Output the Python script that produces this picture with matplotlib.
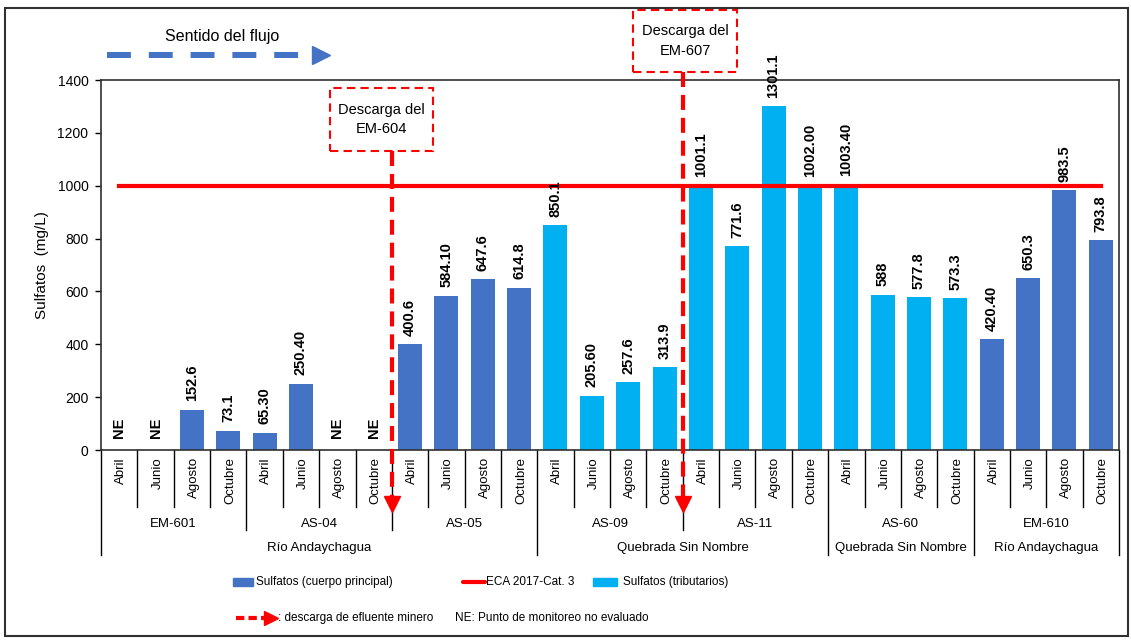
import numpy as np
import matplotlib.pyplot as plt
import matplotlib.transforms as mtransforms
from matplotlib.patches import Rectangle
from matplotlib.lines import Line2D

plt.rcParams['font.family'] = ['Liberation Sans', 'DejaVu Sans']

# Data
months = ['Abril', 'Junio', 'Agosto', 'Octubre']
stations = ['EM-601', 'AS-04', 'AS-05', 'AS-09', 'AS-11', 'AS-60', 'EM-610']
station_tipo = ['principal', 'principal', 'principal', 'tributario',
                'tributario', 'tributario', 'principal']
regions = ['Río Andaychagua', 'Quebrada Sin Nombre', 'Quebrada Sin Nombre', 'Río Andaychagua']
region_n_stations = [3, 2, 1, 1]

sulfatos = [np.nan, np.nan, 152.6, 73.1,
            65.30, 250.40, np.nan, np.nan,
            400.6, 584.10, 647.6, 614.8,
            850.1, 205.60, 257.6, 313.9,
            1001.1, 771.6, 1301.1, 1002.00,
            1003.40, 588, 577.8, 573.3,
            420.40, 650.3, 983.5, 793.8]
sulfatos_txt = ['NE', 'NE', '152.6', '73.1',
                '65.30', '250.40', 'NE', 'NE',
                '400.6', '584.10', '647.6', '614.8',
                '850.1', '205.60', '257.6', '313.9',
                '1001.1', '771.6', '1301.1', '1002.00',
                '1003.40', '588', '577.8', '573.3',
                '420.40', '650.3', '983.5', '793.8']
eca = 1000
# discharge enters after these stations
descargas = {'EM-604': 'AS-04', 'EM-607': 'AS-09'}

BLUE = '#4472C4'
CYAN = '#00B0F0'
RED = '#FF0000'

W, H = 1131, 644
def fx(px):
    return px / W
def fy(py):
    return 1 - py / H

fig = plt.figure(figsize=(W / 100, H / 100), dpi=100)
ax = fig.add_axes([fx(101), fy(450), fx(1119) - fx(101), fy(80) - fy(450)])

n_m = len(months)
x = np.arange(len(stations) * n_m)
vals = np.array(sulfatos, dtype=float)
tipo = np.repeat(station_tipo, n_m)
main = np.where(tipo == 'principal', vals, np.nan)
trib = np.where(tipo == 'tributario', vals, np.nan)

ax.bar(x, np.nan_to_num(main), width=0.66, color=BLUE, label='Sulfatos (cuerpo principal)')
ax.bar(x, np.nan_to_num(trib), width=0.66, color=CYAN, label='Sulfatos (tributarios)')
ax.plot([x[0], x[-1]], [eca, eca], color=RED, lw=3, label='ECA 2017-Cat. 3', zorder=3)

for xi, v, t in zip(x, vals, sulfatos_txt):
    y0 = 0 if np.isnan(v) else v
    off = 9 if np.isnan(v) else 6
    ax.annotate(t, (xi, y0), xytext=(0, off), textcoords='offset points',
                rotation=90, ha='center', va='bottom', fontsize=10.5, fontweight='bold')

ax.set_xlim(-0.5, len(x) - 0.5)
ax.set_ylim(0, 1400)
ax.set_yticks(np.arange(0, 1401, 200))
ax.set_xticks([])
ax.tick_params(axis='y', length=4, width=1, labelsize=10, pad=5)
for s in ax.spines.values():
    s.set_color('#303030')
    s.set_linewidth(1.2)
ax.set_ylabel('Sulfatos  (mg/L)', fontsize=11, labelpad=6)

# category table below the axis
tr = mtransforms.blended_transform_factory(ax.transData, ax.transAxes)
def ay(py):
    return (450 - py) / 370

station_edges = set(range(0, len(x) + 1, n_m))
region_edges = set(np.cumsum([0] + region_n_stations) * n_m)
for b in range(len(x) + 1):
    if b in region_edges:
        y_end = ay(555)
    elif b in station_edges:
        y_end = ay(530)
    else:
        y_end = ay(507)
    ax.plot([b - 0.5, b - 0.5], [0, y_end], transform=tr, color='black', lw=1, clip_on=False)

for xi in x:
    ax.text(xi + 0.05, ay(457), months[xi % n_m], transform=tr, rotation=90,
            ha='center', va='top', fontsize=9.5)
for i, st in enumerate(stations):
    ax.text(i * n_m + (n_m - 1) / 2, ay(524), st, transform=tr,
            ha='center', va='center', fontsize=9.5)
start = 0
for reg, n in zip(regions, region_n_stations):
    ax.text(start * n_m + (n * n_m - 1) / 2, ay(548), reg, transform=tr,
            ha='center', va='center', fontsize=9.5)
    start += n

# discharge arrows and boxes
trf = mtransforms.blended_transform_factory(ax.transData, fig.transFigure)
box_px = {'EM-604': (330, 88, 433, 151), 'EM-607': (633, 10, 737, 72)}
for em, after in descargas.items():
    xb = (stations.index(after) + 1) * n_m - 0.5
    x0, y0, x1, y1 = box_px[em]
    fig.patches.append(Rectangle((fx(x0), fy(y1)), fx(x1) - fx(x0), fy(y0) - fy(y1),
                                 transform=fig.transFigure, fill=False, ec=RED, lw=1.5,
                                 linestyle=(0, (4, 2.5))))
    fig.text(fx((x0 + x1) / 2), fy((y0 + y1) / 2), f'Descarga del\n{em}', ha='center',
             va='center', fontsize=10.5, linespacing=1.5)
    ax.add_line(Line2D([xb, xb], [fy(y1), fy(497)], transform=trf, color=RED, lw=3,
                       linestyle=(0, (3.6, 1.9)), clip_on=False, zorder=5))
    ax.add_line(Line2D([xb], [fy(504)], transform=trf, color=RED, marker='v',
                       markersize=12, lw=0, clip_on=False, zorder=5))

# flow direction
fig.text(fx(222), fy(37), 'Sentido del flujo', ha='center', va='center', fontsize=11.5)
fig.add_artist(Line2D([fx(107), fx(300)], [fy(55), fy(55)], transform=fig.transFigure,
                      color=BLUE, lw=4.3, linestyle=(0, (4.0, 3.0))))
fig.add_artist(Line2D([fx(321)], [fy(55)], transform=fig.transFigure, color=BLUE,
                      marker='>', markersize=13, lw=0))

# legend
ly1, ly2 = 582, 618
fs_leg = 8.5
fig.patches.append(Rectangle((fx(233), fy(586)), fx(253) - fx(233), fy(578) - fy(586),
                             transform=fig.transFigure, color=BLUE))
fig.text(fx(256), fy(ly1), 'Sulfatos (cuerpo principal)', va='center', fontsize=fs_leg)
fig.add_artist(Line2D([fx(463), fx(485)], [fy(ly1), fy(ly1)], transform=fig.transFigure,
                      color=RED, lw=3, solid_capstyle='round'))
fig.text(fx(486), fy(ly1), 'ECA 2017-Cat. 3', va='center', fontsize=fs_leg)
fig.patches.append(Rectangle((fx(593), fy(586)), fx(617) - fx(593), fy(578) - fy(586),
                             transform=fig.transFigure, color=CYAN))
fig.text(fx(623), fy(ly1), 'Sulfatos (tributarios)', va='center', fontsize=fs_leg)
fig.add_artist(Line2D([fx(236), fx(268)], [fy(ly2), fy(ly2)], transform=fig.transFigure,
                      color=RED, lw=3, linestyle=(0, (2, 1))))
fig.add_artist(Line2D([fx(271)], [fy(ly2)], transform=fig.transFigure, color=RED,
                      marker='>', markersize=10, lw=0))
fig.text(fx(278), fy(ly2), ': descarga de efluente minero', va='center', fontsize=fs_leg)
fig.text(fx(455), fy(ly2), 'NE: Punto de monitoreo no evaluado', va='center', fontsize=fs_leg)

# outer frame
fig.patches.append(Rectangle((fx(5), fy(636)), fx(1128) - fx(5), fy(8) - fy(636),
                             transform=fig.transFigure, fill=False, ec='#303030', lw=1.5))

fig.savefig('out.png', dpi=100)
